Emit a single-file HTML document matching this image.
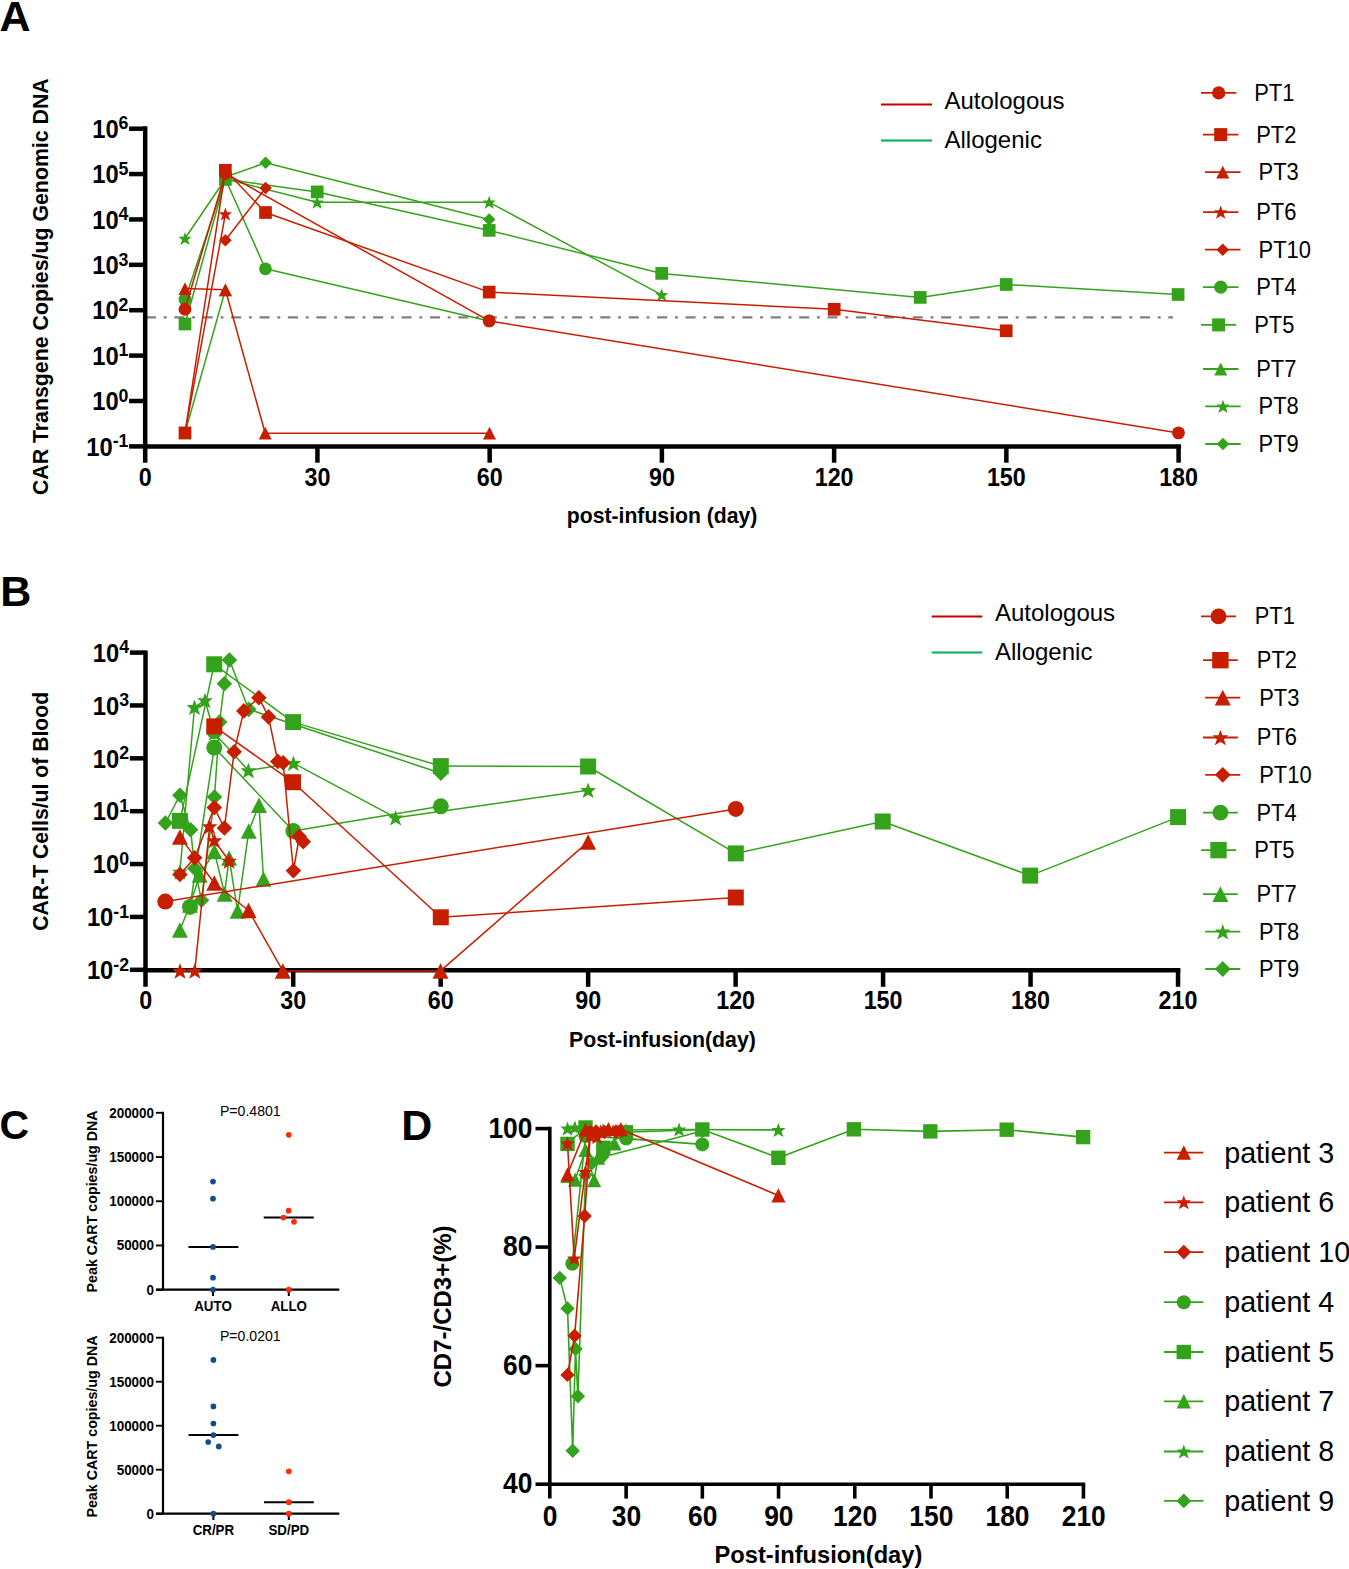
<!DOCTYPE html>
<html><head><meta charset="utf-8"><title>Figure</title>
<style>
html,body{margin:0;padding:0;background:#fff;}
body{width:1349px;height:1569px;overflow:hidden;}
svg{display:block;}
text{font-family:"Liberation Sans",sans-serif;}
</style></head><body>
<svg width="1349" height="1569" viewBox="0 0 1349 1569">
<rect width="1349" height="1569" fill="#fff"/>
<text x="-0.4" y="30.5" font-size="43" text-anchor="start" font-weight="bold" fill="#000">A</text>
<line x1="145.9" y1="317.4" x2="1173" y2="317.4" stroke="#808080" stroke-width="2.3" stroke-dasharray="10.1,7.7,3,7.6"/>
<line x1="145.2" y1="126.2" x2="145.2" y2="462.7" stroke="#000" stroke-width="4.5"/>
<line x1="142.95" y1="446.4" x2="1181" y2="446.4" stroke="#000" stroke-width="4.5"/>
<line x1="129.1" y1="446.4" x2="145.2" y2="446.4" stroke="#000" stroke-width="4.5"/>
<line x1="129.1" y1="401.01" x2="145.2" y2="401.01" stroke="#000" stroke-width="4.5"/>
<line x1="129.1" y1="355.62" x2="145.2" y2="355.62" stroke="#000" stroke-width="4.5"/>
<line x1="129.1" y1="310.23" x2="145.2" y2="310.23" stroke="#000" stroke-width="4.5"/>
<line x1="129.1" y1="264.84" x2="145.2" y2="264.84" stroke="#000" stroke-width="4.5"/>
<line x1="129.1" y1="219.45" x2="145.2" y2="219.45" stroke="#000" stroke-width="4.5"/>
<line x1="129.1" y1="174.06" x2="145.2" y2="174.06" stroke="#000" stroke-width="4.5"/>
<line x1="129.1" y1="128.7" x2="145.2" y2="128.7" stroke="#000" stroke-width="4.5"/>
<line x1="317.43" y1="446.4" x2="317.43" y2="462.7" stroke="#000" stroke-width="4.5"/>
<line x1="489.66" y1="446.4" x2="489.66" y2="462.7" stroke="#000" stroke-width="4.5"/>
<line x1="661.89" y1="446.4" x2="661.89" y2="462.7" stroke="#000" stroke-width="4.5"/>
<line x1="834.12" y1="446.4" x2="834.12" y2="462.7" stroke="#000" stroke-width="4.5"/>
<line x1="1006.35" y1="446.4" x2="1006.35" y2="462.7" stroke="#000" stroke-width="4.5"/>
<line x1="1178.58" y1="446.4" x2="1178.58" y2="462.7" stroke="#000" stroke-width="4.5"/>
<polyline points="185,299.4 225.4,179 265.4,268.8 489.2,320.9" fill="none" stroke="#34a31b" stroke-width="1.5" stroke-linejoin="round"/>
<circle cx="185" cy="299.4" r="6.4" fill="#34a31b"/>
<circle cx="225.4" cy="179" r="6.4" fill="#34a31b"/>
<circle cx="265.4" cy="268.8" r="6.4" fill="#34a31b"/>
<circle cx="489.2" cy="320.9" r="6.4" fill="#34a31b"/>
<polyline points="185,324 225.4,179.3 317.2,191.9 489.2,230.4 661.7,273.4 920.2,297.4 1006.2,284.5 1178.1,294.5" fill="none" stroke="#34a31b" stroke-width="1.5" stroke-linejoin="round"/>
<rect x="178.65" y="317.65" width="12.7" height="12.7" fill="#34a31b"/>
<rect x="219.05" y="172.95" width="12.7" height="12.7" fill="#34a31b"/>
<rect x="310.85" y="185.55" width="12.7" height="12.7" fill="#34a31b"/>
<rect x="482.85" y="224.05" width="12.7" height="12.7" fill="#34a31b"/>
<rect x="655.35" y="267.05" width="12.7" height="12.7" fill="#34a31b"/>
<rect x="913.85" y="291.05" width="12.7" height="12.7" fill="#34a31b"/>
<rect x="999.85" y="278.15" width="12.7" height="12.7" fill="#34a31b"/>
<rect x="1171.75" y="288.15" width="12.7" height="12.7" fill="#34a31b"/>
<polyline points="185,432.9 225.4,289.8" fill="none" stroke="#34a31b" stroke-width="1.5" stroke-linejoin="round"/>
<polygon points="185,426.5 191.5,439.3 178.5,439.3" fill="#34a31b"/>
<polygon points="225.4,283.4 231.9,296.2 218.9,296.2" fill="#34a31b"/>
<polyline points="185,238.5 225.4,179 317.2,202.3 489.2,202.3 661.7,294.8" fill="none" stroke="#34a31b" stroke-width="1.5" stroke-linejoin="round"/>
<polygon points="185,231.99 186.68,236.68 191.52,236.67 187.9,240.04 189.7,245.01 185,242.21 180.3,245.01 182.1,240.04 178.48,236.67 183.32,236.68" fill="#34a31b"/>
<polygon points="225.4,172.49 227.08,177.18 231.92,177.17 228.3,180.54 230.1,185.51 225.4,182.71 220.7,185.51 222.5,180.54 218.88,177.17 223.72,177.18" fill="#34a31b"/>
<polygon points="317.2,195.79 318.88,200.48 323.72,200.47 320.1,203.84 321.9,208.81 317.2,206.01 312.5,208.81 314.3,203.84 310.68,200.47 315.52,200.48" fill="#34a31b"/>
<polygon points="489.2,195.79 490.88,200.48 495.72,200.47 492.1,203.84 493.9,208.81 489.2,206.01 484.5,208.81 486.3,203.84 482.68,200.47 487.52,200.48" fill="#34a31b"/>
<polygon points="661.7,288.29 663.38,292.98 668.22,292.97 664.6,296.34 666.4,301.31 661.7,298.51 657,301.31 658.8,296.34 655.18,292.97 660.02,292.98" fill="#34a31b"/>
<polyline points="225.4,177 265.6,162.8 489.2,219.5" fill="none" stroke="#34a31b" stroke-width="1.5" stroke-linejoin="round"/>
<polygon points="225.4,170.7 231.7,177 225.4,183.3 219.1,177" fill="#34a31b"/>
<polygon points="265.6,156.5 271.9,162.8 265.6,169.1 259.3,162.8" fill="#34a31b"/>
<polygon points="489.2,213.2 495.5,219.5 489.2,225.8 482.9,219.5" fill="#34a31b"/>
<polyline points="185,309.25 225.4,173.3 489.2,320.9 1178.5,432.9" fill="none" stroke="#c81e00" stroke-width="1.5" stroke-linejoin="round"/>
<circle cx="185" cy="309.25" r="6.4" fill="#c81e00"/>
<circle cx="225.4" cy="173.3" r="6.4" fill="#c81e00"/>
<circle cx="489.2" cy="320.9" r="6.4" fill="#c81e00"/>
<circle cx="1178.5" cy="432.9" r="6.4" fill="#c81e00"/>
<polyline points="185,432.9 225.35,170.3 265.5,212.5 489.2,292.1 834.2,309.3 1006.2,330.8" fill="none" stroke="#c81e00" stroke-width="1.5" stroke-linejoin="round"/>
<rect x="178.65" y="426.55" width="12.7" height="12.7" fill="#c81e00"/>
<rect x="219" y="163.95" width="12.7" height="12.7" fill="#c81e00"/>
<rect x="259.15" y="206.15" width="12.7" height="12.7" fill="#c81e00"/>
<rect x="482.85" y="285.75" width="12.7" height="12.7" fill="#c81e00"/>
<rect x="827.85" y="302.95" width="12.7" height="12.7" fill="#c81e00"/>
<rect x="999.85" y="324.45" width="12.7" height="12.7" fill="#c81e00"/>
<polyline points="185,288.6 225.4,289.8 265.2,433.2 489.5,433.2" fill="none" stroke="#c81e00" stroke-width="1.5" stroke-linejoin="round"/>
<polygon points="185,282.2 191.5,295 178.5,295" fill="#c81e00"/>
<polygon points="225.4,283.4 231.9,296.2 218.9,296.2" fill="#c81e00"/>
<polygon points="265.2,426.8 271.7,439.6 258.7,439.6" fill="#c81e00"/>
<polygon points="489.5,426.8 496,439.6 483,439.6" fill="#c81e00"/>
<polyline points="185,432.9 225.4,214" fill="none" stroke="#c81e00" stroke-width="1.5" stroke-linejoin="round"/>
<polygon points="185,426.39 186.68,431.08 191.52,431.07 187.9,434.44 189.7,439.41 185,436.61 180.3,439.41 182.1,434.44 178.48,431.07 183.32,431.08" fill="#c81e00"/>
<polygon points="225.4,207.49 227.08,212.18 231.92,212.17 228.3,215.54 230.1,220.51 225.4,217.71 220.7,220.51 222.5,215.54 218.88,212.17 223.72,212.18" fill="#c81e00"/>
<polyline points="225.4,240.3 265.6,188" fill="none" stroke="#c81e00" stroke-width="1.5" stroke-linejoin="round"/>
<polygon points="225.4,234 231.7,240.3 225.4,246.6 219.1,240.3" fill="#c81e00"/>
<polygon points="265.6,181.7 271.9,188 265.6,194.3 259.3,188" fill="#c81e00"/>
<text transform="translate(128.5,455.6) scale(0.935,1)" font-size="25.4" text-anchor="end" font-weight="bold">10<tspan dy="-8.5" font-size="19">-1</tspan></text>
<text transform="translate(128.5,410.21) scale(0.935,1)" font-size="25.4" text-anchor="end" font-weight="bold">10<tspan dy="-8.5" font-size="19">0</tspan></text>
<text transform="translate(128.5,364.82) scale(0.935,1)" font-size="25.4" text-anchor="end" font-weight="bold">10<tspan dy="-8.5" font-size="19">1</tspan></text>
<text transform="translate(128.5,319.43) scale(0.935,1)" font-size="25.4" text-anchor="end" font-weight="bold">10<tspan dy="-8.5" font-size="19">2</tspan></text>
<text transform="translate(128.5,274.04) scale(0.935,1)" font-size="25.4" text-anchor="end" font-weight="bold">10<tspan dy="-8.5" font-size="19">3</tspan></text>
<text transform="translate(128.5,228.65) scale(0.935,1)" font-size="25.4" text-anchor="end" font-weight="bold">10<tspan dy="-8.5" font-size="19">4</tspan></text>
<text transform="translate(128.5,183.26) scale(0.935,1)" font-size="25.4" text-anchor="end" font-weight="bold">10<tspan dy="-8.5" font-size="19">5</tspan></text>
<text transform="translate(128.5,137.87) scale(0.935,1)" font-size="25.4" text-anchor="end" font-weight="bold">10<tspan dy="-8.5" font-size="19">6</tspan></text>
<text transform="translate(145.2,486) scale(0.9,1)" font-size="25.9" text-anchor="middle" font-weight="bold">0</text>
<text transform="translate(317.43,486) scale(0.9,1)" font-size="25.9" text-anchor="middle" font-weight="bold">30</text>
<text transform="translate(489.66,486) scale(0.9,1)" font-size="25.9" text-anchor="middle" font-weight="bold">60</text>
<text transform="translate(661.89,486) scale(0.9,1)" font-size="25.9" text-anchor="middle" font-weight="bold">90</text>
<text transform="translate(834.12,486) scale(0.9,1)" font-size="25.9" text-anchor="middle" font-weight="bold">120</text>
<text transform="translate(1006.35,486) scale(0.9,1)" font-size="25.9" text-anchor="middle" font-weight="bold">150</text>
<text transform="translate(1178.58,486) scale(0.9,1)" font-size="25.9" text-anchor="middle" font-weight="bold">180</text>
<text x="662.1" y="523" font-size="21.2" text-anchor="middle" font-weight="bold" fill="#000">post-infusion (day)</text>
<text x="0" y="0" font-size="21.32" text-anchor="middle" font-weight="bold" fill="#000" transform="translate(48.2,286.7) rotate(-90)">CAR Transgene Copies/ug Genomic DNA</text>
<line x1="881" y1="104.5" x2="932" y2="104.5" stroke="#c00000" stroke-width="2"/>
<line x1="881" y1="140.4" x2="932" y2="140.4" stroke="#00b050" stroke-width="2"/>
<text x="944.5" y="109" font-size="24" text-anchor="start" font-weight="normal" fill="#000">Autologous</text>
<text x="944.5" y="148" font-size="24" text-anchor="start" font-weight="normal" fill="#000">Allogenic</text>
<line x1="1201" y1="92.9" x2="1236.4" y2="92.9" stroke="#c81e00" stroke-width="1.8"/>
<circle cx="1218.7" cy="92.9" r="6.6" fill="#c81e00"/>
<text transform="translate(1254.2,100.8) scale(0.95,1)" font-size="23.1" text-anchor="start" font-weight="normal">PT1</text>
<line x1="1203" y1="134.6" x2="1238.4" y2="134.6" stroke="#c81e00" stroke-width="1.8"/>
<rect x="1214.2" y="128.1" width="13" height="13" fill="#c81e00"/>
<text transform="translate(1256.2,142.5) scale(0.95,1)" font-size="23.1" text-anchor="start" font-weight="normal">PT2</text>
<line x1="1205" y1="172.1" x2="1240.5" y2="172.1" stroke="#c81e00" stroke-width="1.8"/>
<polygon points="1222.75,165.65 1229.25,178.55 1216.25,178.55" fill="#c81e00"/>
<text transform="translate(1258.6,180) scale(0.95,1)" font-size="23.1" text-anchor="start" font-weight="normal">PT3</text>
<line x1="1203" y1="212.2" x2="1238.4" y2="212.2" stroke="#c81e00" stroke-width="1.8"/>
<polygon points="1220.7,205.6 1222.41,210.35 1227.31,210.34 1223.64,213.76 1225.47,218.8 1220.7,215.96 1215.93,218.8 1217.76,213.76 1214.09,210.34 1218.99,210.35" fill="#c81e00"/>
<text transform="translate(1256.2,220.1) scale(0.95,1)" font-size="23.1" text-anchor="start" font-weight="normal">PT6</text>
<line x1="1205" y1="249.7" x2="1240.5" y2="249.7" stroke="#c81e00" stroke-width="1.8"/>
<polygon points="1222.75,243.4 1229.05,249.7 1222.75,256 1216.45,249.7" fill="#c81e00"/>
<text transform="translate(1258.6,257.6) scale(0.95,1)" font-size="23.1" text-anchor="start" font-weight="normal">PT10</text>
<line x1="1203" y1="287.1" x2="1238.5" y2="287.1" stroke="#34a31b" stroke-width="1.8"/>
<circle cx="1220.75" cy="287.1" r="6.6" fill="#34a31b"/>
<text transform="translate(1256.2,295) scale(0.95,1)" font-size="23.1" text-anchor="start" font-weight="normal">PT4</text>
<line x1="1201" y1="324.9" x2="1236.2" y2="324.9" stroke="#34a31b" stroke-width="1.8"/>
<rect x="1212.1" y="318.4" width="13" height="13" fill="#34a31b"/>
<text transform="translate(1254.2,332.8) scale(0.95,1)" font-size="23.1" text-anchor="start" font-weight="normal">PT5</text>
<line x1="1203" y1="369" x2="1238.5" y2="369" stroke="#34a31b" stroke-width="1.8"/>
<polygon points="1220.75,362.55 1227.25,375.45 1214.25,375.45" fill="#34a31b"/>
<text transform="translate(1256.2,376.9) scale(0.95,1)" font-size="23.1" text-anchor="start" font-weight="normal">PT7</text>
<line x1="1205.2" y1="406.3" x2="1240.7" y2="406.3" stroke="#34a31b" stroke-width="1.8"/>
<polygon points="1222.95,399.7 1224.66,404.45 1229.56,404.44 1225.89,407.86 1227.72,412.9 1222.95,410.06 1218.18,412.9 1220.01,407.86 1216.34,404.44 1221.24,404.45" fill="#34a31b"/>
<text transform="translate(1258.6,414.2) scale(0.95,1)" font-size="23.1" text-anchor="start" font-weight="normal">PT8</text>
<line x1="1205.2" y1="444" x2="1240.7" y2="444" stroke="#34a31b" stroke-width="1.8"/>
<polygon points="1222.95,437.7 1229.25,444 1222.95,450.3 1216.65,444" fill="#34a31b"/>
<text transform="translate(1258.6,451.9) scale(0.95,1)" font-size="23.1" text-anchor="start" font-weight="normal">PT9</text>
<text x="0.2" y="606.3" font-size="43" text-anchor="start" font-weight="bold" fill="#000">B</text>
<line x1="145.5" y1="650.4" x2="145.5" y2="986.8" stroke="#000" stroke-width="4.5"/>
<line x1="143.25" y1="970.3" x2="1180.4" y2="970.3" stroke="#000" stroke-width="4.5"/>
<line x1="129.9" y1="969.8" x2="145.5" y2="969.8" stroke="#000" stroke-width="4.5"/>
<line x1="129.9" y1="916.93" x2="145.5" y2="916.93" stroke="#000" stroke-width="4.5"/>
<line x1="129.9" y1="864.06" x2="145.5" y2="864.06" stroke="#000" stroke-width="4.5"/>
<line x1="129.9" y1="811.19" x2="145.5" y2="811.19" stroke="#000" stroke-width="4.5"/>
<line x1="129.9" y1="758.32" x2="145.5" y2="758.32" stroke="#000" stroke-width="4.5"/>
<line x1="129.9" y1="705.45" x2="145.5" y2="705.45" stroke="#000" stroke-width="4.5"/>
<line x1="129.9" y1="652.6" x2="145.5" y2="652.6" stroke="#000" stroke-width="4.5"/>
<line x1="293.22" y1="970.3" x2="293.22" y2="986.8" stroke="#000" stroke-width="4.5"/>
<line x1="440.69" y1="970.3" x2="440.69" y2="986.8" stroke="#000" stroke-width="4.5"/>
<line x1="588.15" y1="970.3" x2="588.15" y2="986.8" stroke="#000" stroke-width="4.5"/>
<line x1="735.62" y1="970.3" x2="735.62" y2="986.8" stroke="#000" stroke-width="4.5"/>
<line x1="883.09" y1="970.3" x2="883.09" y2="986.8" stroke="#000" stroke-width="4.5"/>
<line x1="1030.56" y1="970.3" x2="1030.56" y2="986.8" stroke="#000" stroke-width="4.5"/>
<line x1="1178.03" y1="970.3" x2="1178.03" y2="986.8" stroke="#000" stroke-width="4.5"/>
<circle cx="214.3" cy="731" r="8" fill="#34a31b"/>
<polyline points="190,906.9 214.3,747.5 293.3,831.1 440.8,806.3" fill="none" stroke="#34a31b" stroke-width="1.5" stroke-linejoin="round"/>
<circle cx="190" cy="906.9" r="8" fill="#34a31b"/>
<circle cx="214.3" cy="747.5" r="8" fill="#34a31b"/>
<circle cx="293.3" cy="831.1" r="8" fill="#34a31b"/>
<circle cx="440.8" cy="806.3" r="8" fill="#34a31b"/>
<polyline points="179.9,820.9 214.2,664.3 293.1,722.1 440.8,766.1 588.1,766.5 735.8,853.4 882.7,821.5 1030.2,875.6 1178.1,817.1" fill="none" stroke="#34a31b" stroke-width="1.5" stroke-linejoin="round"/>
<rect x="171.9" y="812.9" width="16" height="16" fill="#34a31b"/>
<rect x="206.2" y="656.3" width="16" height="16" fill="#34a31b"/>
<rect x="285.1" y="714.1" width="16" height="16" fill="#34a31b"/>
<rect x="432.8" y="758.1" width="16" height="16" fill="#34a31b"/>
<rect x="580.1" y="758.5" width="16" height="16" fill="#34a31b"/>
<rect x="727.8" y="845.4" width="16" height="16" fill="#34a31b"/>
<rect x="874.7" y="813.5" width="16" height="16" fill="#34a31b"/>
<rect x="1022.2" y="867.6" width="16" height="16" fill="#34a31b"/>
<rect x="1170.1" y="809.1" width="16" height="16" fill="#34a31b"/>
<polyline points="179.9,930 190,905 199.7,875 214.4,851.6 224.6,894 229.1,857.9 237.6,911 248.75,831.1 259,805.2 263.5,879" fill="none" stroke="#34a31b" stroke-width="1.5" stroke-linejoin="round"/>
<polygon points="179.9,922.25 187.9,937.75 171.9,937.75" fill="#34a31b"/>
<polygon points="190,897.25 198,912.75 182,912.75" fill="#34a31b"/>
<polygon points="199.7,867.25 207.7,882.75 191.7,882.75" fill="#34a31b"/>
<polygon points="214.4,843.85 222.4,859.35 206.4,859.35" fill="#34a31b"/>
<polygon points="224.6,886.25 232.6,901.75 216.6,901.75" fill="#34a31b"/>
<polygon points="229.1,850.15 237.1,865.65 221.1,865.65" fill="#34a31b"/>
<polygon points="237.6,903.25 245.6,918.75 229.6,918.75" fill="#34a31b"/>
<polygon points="248.75,823.35 256.75,838.85 240.75,838.85" fill="#34a31b"/>
<polygon points="259,797.45 267,812.95 251,812.95" fill="#34a31b"/>
<polygon points="263.5,871.25 271.5,886.75 255.5,886.75" fill="#34a31b"/>
<polyline points="179.9,872 194.5,707.2 205,700.5 214.3,733 248.4,770.5 293.4,763.2 395.6,817.7 588.1,790.3" fill="none" stroke="#34a31b" stroke-width="1.5" stroke-linejoin="round"/>
<polygon points="179.9,864.22 181.91,869.82 187.68,869.81 183.36,873.84 185.52,879.78 179.9,876.43 174.28,879.78 176.44,873.84 172.12,869.81 177.89,869.82" fill="#34a31b"/>
<polygon points="194.5,699.42 196.51,705.02 202.28,705.01 197.96,709.04 200.12,714.98 194.5,711.63 188.88,714.98 191.04,709.04 186.72,705.01 192.49,705.02" fill="#34a31b"/>
<polygon points="205,692.72 207.01,698.32 212.78,698.31 208.46,702.34 210.62,708.28 205,704.93 199.38,708.28 201.54,702.34 197.22,698.31 202.99,698.32" fill="#34a31b"/>
<polygon points="214.3,725.22 216.31,730.82 222.08,730.81 217.76,734.84 219.92,740.78 214.3,737.43 208.68,740.78 210.84,734.84 206.52,730.81 212.29,730.82" fill="#34a31b"/>
<polygon points="248.4,762.72 250.41,768.32 256.18,768.31 251.86,772.34 254.02,778.28 248.4,774.93 242.78,778.28 244.94,772.34 240.62,768.31 246.39,768.32" fill="#34a31b"/>
<polygon points="293.4,755.42 295.41,761.02 301.18,761.01 296.86,765.04 299.02,770.98 293.4,767.63 287.78,770.98 289.94,765.04 285.62,761.01 291.39,761.02" fill="#34a31b"/>
<polygon points="395.6,809.92 397.61,815.52 403.38,815.51 399.06,819.54 401.22,825.48 395.6,822.13 389.98,825.48 392.14,819.54 387.82,815.51 393.59,815.52" fill="#34a31b"/>
<polygon points="588.1,782.52 590.11,788.12 595.88,788.11 591.56,792.14 593.72,798.08 588.1,794.73 582.48,798.08 584.64,792.14 580.32,788.11 586.09,788.12" fill="#34a31b"/>
<polyline points="165.4,823 179.9,795.3 190.6,829.8 194.8,868.4 201.5,900.3 214.5,797 219.6,722 224.4,683.7 229.4,660 248.75,709.4 440.8,773.2" fill="none" stroke="#34a31b" stroke-width="1.5" stroke-linejoin="round"/>
<polygon points="165.4,815.2 173.2,823 165.4,830.8 157.6,823" fill="#34a31b"/>
<polygon points="179.9,787.5 187.7,795.3 179.9,803.1 172.1,795.3" fill="#34a31b"/>
<polygon points="190.6,822 198.4,829.8 190.6,837.6 182.8,829.8" fill="#34a31b"/>
<polygon points="194.8,860.6 202.6,868.4 194.8,876.2 187,868.4" fill="#34a31b"/>
<polygon points="201.5,892.5 209.3,900.3 201.5,908.1 193.7,900.3" fill="#34a31b"/>
<polygon points="214.5,789.2 222.3,797 214.5,804.8 206.7,797" fill="#34a31b"/>
<polygon points="219.6,714.2 227.4,722 219.6,729.8 211.8,722" fill="#34a31b"/>
<polygon points="224.4,675.9 232.2,683.7 224.4,691.5 216.6,683.7" fill="#34a31b"/>
<polygon points="229.4,652.2 237.2,660 229.4,667.8 221.6,660" fill="#34a31b"/>
<polygon points="248.75,701.6 256.55,709.4 248.75,717.2 240.95,709.4" fill="#34a31b"/>
<polygon points="440.8,765.4 448.6,773.2 440.8,781 433,773.2" fill="#34a31b"/>
<polyline points="165.3,901.6 735.8,808.9" fill="none" stroke="#c81e00" stroke-width="1.5" stroke-linejoin="round"/>
<circle cx="165.3" cy="901.6" r="8" fill="#c81e00"/>
<circle cx="735.8" cy="808.9" r="8" fill="#c81e00"/>
<polyline points="214.3,726.4 293,782.2 440.8,917.3 735.8,897.5" fill="none" stroke="#c81e00" stroke-width="1.5" stroke-linejoin="round"/>
<rect x="206.3" y="718.4" width="16" height="16" fill="#c81e00"/>
<rect x="285" y="774.2" width="16" height="16" fill="#c81e00"/>
<rect x="432.8" y="909.3" width="16" height="16" fill="#c81e00"/>
<rect x="727.8" y="889.5" width="16" height="16" fill="#c81e00"/>
<polyline points="179.9,836.9 214.3,883 248.6,910.5 282.8,970.9 440.5,970.9 588.1,841.9" fill="none" stroke="#c81e00" stroke-width="1.5" stroke-linejoin="round"/>
<polygon points="179.9,829.15 187.9,844.65 171.9,844.65" fill="#c81e00"/>
<polygon points="214.3,875.25 222.3,890.75 206.3,890.75" fill="#c81e00"/>
<polygon points="248.6,902.75 256.6,918.25 240.6,918.25" fill="#c81e00"/>
<polygon points="282.8,963.15 290.8,978.65 274.8,978.65" fill="#c81e00"/>
<polygon points="440.5,963.15 448.5,978.65 432.5,978.65" fill="#c81e00"/>
<polygon points="588.1,834.15 596.1,849.65 580.1,849.65" fill="#c81e00"/>
<polyline points="180,970.9 194.8,970.9 209.6,826.5 214.3,840.5 229.2,861" fill="none" stroke="#c81e00" stroke-width="1.5" stroke-linejoin="round"/>
<polygon points="180,963.12 182.01,968.72 187.78,968.71 183.46,972.74 185.62,978.68 180,975.33 174.38,978.68 176.54,972.74 172.22,968.71 177.99,968.72" fill="#c81e00"/>
<polygon points="194.8,963.12 196.81,968.72 202.58,968.71 198.26,972.74 200.42,978.68 194.8,975.33 189.18,978.68 191.34,972.74 187.02,968.71 192.79,968.72" fill="#c81e00"/>
<polygon points="209.6,818.72 211.61,824.32 217.38,824.31 213.06,828.34 215.22,834.28 209.6,830.93 203.98,834.28 206.14,828.34 201.82,824.31 207.59,824.32" fill="#c81e00"/>
<polygon points="214.3,832.72 216.31,838.32 222.08,838.31 217.76,842.34 219.92,848.28 214.3,844.93 208.68,848.28 210.84,842.34 206.52,838.31 212.29,838.32" fill="#c81e00"/>
<polygon points="229.2,853.22 231.21,858.82 236.98,858.81 232.66,862.84 234.82,868.78 229.2,865.43 223.58,868.78 225.74,862.84 221.42,858.81 227.19,858.82" fill="#c81e00"/>
<polyline points="179.9,874.5 194.7,857.7 214.3,807.6 224.4,828 234.2,751.7 243.8,710.9 258.9,697.7 268.5,716.9 277.8,761.4 283.1,762.8 293.4,870.8 299.3,836.5 303.3,841.8" fill="none" stroke="#c81e00" stroke-width="1.5" stroke-linejoin="round"/>
<polygon points="179.9,866.7 187.7,874.5 179.9,882.3 172.1,874.5" fill="#c81e00"/>
<polygon points="194.7,849.9 202.5,857.7 194.7,865.5 186.9,857.7" fill="#c81e00"/>
<polygon points="214.3,799.8 222.1,807.6 214.3,815.4 206.5,807.6" fill="#c81e00"/>
<polygon points="224.4,820.2 232.2,828 224.4,835.8 216.6,828" fill="#c81e00"/>
<polygon points="234.2,743.9 242,751.7 234.2,759.5 226.4,751.7" fill="#c81e00"/>
<polygon points="243.8,703.1 251.6,710.9 243.8,718.7 236,710.9" fill="#c81e00"/>
<polygon points="258.9,689.9 266.7,697.7 258.9,705.5 251.1,697.7" fill="#c81e00"/>
<polygon points="268.5,709.1 276.3,716.9 268.5,724.7 260.7,716.9" fill="#c81e00"/>
<polygon points="277.8,753.6 285.6,761.4 277.8,769.2 270,761.4" fill="#c81e00"/>
<polygon points="283.1,755 290.9,762.8 283.1,770.6 275.3,762.8" fill="#c81e00"/>
<polygon points="293.4,863 301.2,870.8 293.4,878.6 285.6,870.8" fill="#c81e00"/>
<polygon points="299.3,828.7 307.1,836.5 299.3,844.3 291.5,836.5" fill="#c81e00"/>
<polygon points="303.3,834 311.1,841.8 303.3,849.6 295.5,841.8" fill="#c81e00"/>
<text transform="translate(129.1,979.1) scale(0.935,1)" font-size="25.4" text-anchor="end" font-weight="bold">10<tspan dy="-8.5" font-size="19">-2</tspan></text>
<text transform="translate(129.1,926.23) scale(0.935,1)" font-size="25.4" text-anchor="end" font-weight="bold">10<tspan dy="-8.5" font-size="19">-1</tspan></text>
<text transform="translate(129.1,873.36) scale(0.935,1)" font-size="25.4" text-anchor="end" font-weight="bold">10<tspan dy="-8.5" font-size="19">0</tspan></text>
<text transform="translate(129.1,820.49) scale(0.935,1)" font-size="25.4" text-anchor="end" font-weight="bold">10<tspan dy="-8.5" font-size="19">1</tspan></text>
<text transform="translate(129.1,767.62) scale(0.935,1)" font-size="25.4" text-anchor="end" font-weight="bold">10<tspan dy="-8.5" font-size="19">2</tspan></text>
<text transform="translate(129.1,714.75) scale(0.935,1)" font-size="25.4" text-anchor="end" font-weight="bold">10<tspan dy="-8.5" font-size="19">3</tspan></text>
<text transform="translate(129.1,661.88) scale(0.935,1)" font-size="25.4" text-anchor="end" font-weight="bold">10<tspan dy="-8.5" font-size="19">4</tspan></text>
<text transform="translate(145.75,1009.3) scale(0.9,1)" font-size="25.9" text-anchor="middle" font-weight="bold">0</text>
<text transform="translate(293.22,1009.3) scale(0.9,1)" font-size="25.9" text-anchor="middle" font-weight="bold">30</text>
<text transform="translate(440.69,1009.3) scale(0.9,1)" font-size="25.9" text-anchor="middle" font-weight="bold">60</text>
<text transform="translate(588.15,1009.3) scale(0.9,1)" font-size="25.9" text-anchor="middle" font-weight="bold">90</text>
<text transform="translate(735.62,1009.3) scale(0.9,1)" font-size="25.9" text-anchor="middle" font-weight="bold">120</text>
<text transform="translate(883.09,1009.3) scale(0.9,1)" font-size="25.9" text-anchor="middle" font-weight="bold">150</text>
<text transform="translate(1030.56,1009.3) scale(0.9,1)" font-size="25.9" text-anchor="middle" font-weight="bold">180</text>
<text transform="translate(1178.03,1009.3) scale(0.9,1)" font-size="25.9" text-anchor="middle" font-weight="bold">210</text>
<text x="662.4" y="1047.1" font-size="21.3" text-anchor="middle" font-weight="bold" fill="#000">Post-infusion(day)</text>
<text x="0" y="0" font-size="21.2" text-anchor="middle" font-weight="bold" fill="#000" transform="translate(48.0,811.3) rotate(-90)">CAR-T Cells/ul of Blood</text>
<line x1="931.7" y1="616.5" x2="982.3" y2="616.5" stroke="#c00000" stroke-width="2"/>
<line x1="931.7" y1="652.6" x2="982.3" y2="652.6" stroke="#00b050" stroke-width="2"/>
<text x="995" y="620.7" font-size="24" text-anchor="start" font-weight="normal" fill="#000">Autologous</text>
<text x="995" y="660" font-size="24" text-anchor="start" font-weight="normal" fill="#000">Allogenic</text>
<line x1="1201" y1="616.4" x2="1236" y2="616.4" stroke="#c81e00" stroke-width="1.8"/>
<circle cx="1218.5" cy="616.4" r="7.9" fill="#c81e00"/>
<text transform="translate(1254.7,624.3) scale(0.95,1)" font-size="23.1" text-anchor="start" font-weight="normal">PT1</text>
<line x1="1203" y1="660.2" x2="1237.8" y2="660.2" stroke="#c81e00" stroke-width="1.8"/>
<rect x="1212.2" y="652" width="16.4" height="16.4" fill="#c81e00"/>
<text transform="translate(1256.8,668.1) scale(0.95,1)" font-size="23.1" text-anchor="start" font-weight="normal">PT2</text>
<line x1="1205.2" y1="697.6" x2="1240.3" y2="697.6" stroke="#c81e00" stroke-width="1.8"/>
<polygon points="1222.75,689.8 1230.75,705.4 1214.75,705.4" fill="#c81e00"/>
<text transform="translate(1259.2,705.5) scale(0.95,1)" font-size="23.1" text-anchor="start" font-weight="normal">PT3</text>
<line x1="1203" y1="737.5" x2="1237.8" y2="737.5" stroke="#c81e00" stroke-width="1.8"/>
<polygon points="1220.4,729.72 1222.41,735.32 1228.18,735.31 1223.86,739.34 1226.02,745.28 1220.4,741.93 1214.78,745.28 1216.94,739.34 1212.62,735.31 1218.39,735.32" fill="#c81e00"/>
<text transform="translate(1256.8,745.4) scale(0.95,1)" font-size="23.1" text-anchor="start" font-weight="normal">PT6</text>
<line x1="1205.2" y1="774.8" x2="1240.3" y2="774.8" stroke="#c81e00" stroke-width="1.8"/>
<polygon points="1222.75,766.9 1230.65,774.8 1222.75,782.7 1214.85,774.8" fill="#c81e00"/>
<text transform="translate(1259.2,782.7) scale(0.95,1)" font-size="23.1" text-anchor="start" font-weight="normal">PT10</text>
<line x1="1203" y1="812.6" x2="1237.8" y2="812.6" stroke="#34a31b" stroke-width="1.8"/>
<circle cx="1220.4" cy="812.6" r="7.9" fill="#34a31b"/>
<text transform="translate(1256.4,820.5) scale(0.95,1)" font-size="23.1" text-anchor="start" font-weight="normal">PT4</text>
<line x1="1201" y1="850.1" x2="1236" y2="850.1" stroke="#34a31b" stroke-width="1.8"/>
<rect x="1210.3" y="841.9" width="16.4" height="16.4" fill="#34a31b"/>
<text transform="translate(1254.3,858) scale(0.95,1)" font-size="23.1" text-anchor="start" font-weight="normal">PT5</text>
<line x1="1203" y1="894.1" x2="1237.8" y2="894.1" stroke="#34a31b" stroke-width="1.8"/>
<polygon points="1220.4,886.3 1228.4,901.9 1212.4,901.9" fill="#34a31b"/>
<text transform="translate(1256.4,902) scale(0.95,1)" font-size="23.1" text-anchor="start" font-weight="normal">PT7</text>
<line x1="1205.2" y1="931.7" x2="1240.3" y2="931.7" stroke="#34a31b" stroke-width="1.8"/>
<polygon points="1222.75,923.92 1224.76,929.52 1230.53,929.51 1226.21,933.54 1228.37,939.48 1222.75,936.13 1217.13,939.48 1219.29,933.54 1214.97,929.51 1220.74,929.52" fill="#34a31b"/>
<text transform="translate(1258.9,939.6) scale(0.95,1)" font-size="23.1" text-anchor="start" font-weight="normal">PT8</text>
<line x1="1205.2" y1="969" x2="1240.3" y2="969" stroke="#34a31b" stroke-width="1.8"/>
<polygon points="1222.75,961.1 1230.65,969 1222.75,976.9 1214.85,969" fill="#34a31b"/>
<text transform="translate(1258.9,976.9) scale(0.95,1)" font-size="23.1" text-anchor="start" font-weight="normal">PT9</text>
<text x="-0.4" y="1139.2" font-size="41" text-anchor="start" font-weight="bold" fill="#000">C</text>
<line x1="163" y1="1111.8" x2="163" y2="1290.7" stroke="#000" stroke-width="2.2"/>
<line x1="156" y1="1289.7" x2="339.3" y2="1289.7" stroke="#000" stroke-width="2.2"/>
<line x1="155.9" y1="1289.7" x2="163" y2="1289.7" stroke="#000" stroke-width="1.9"/>
<text transform="translate(154,1294.5) scale(0.94,1)" font-size="14.3" text-anchor="end" font-weight="bold">0</text>
<line x1="155.9" y1="1245.47" x2="163" y2="1245.47" stroke="#000" stroke-width="1.9"/>
<text transform="translate(154,1250.27) scale(0.94,1)" font-size="14.3" text-anchor="end" font-weight="bold">50000</text>
<line x1="155.9" y1="1201.25" x2="163" y2="1201.25" stroke="#000" stroke-width="1.9"/>
<text transform="translate(154,1206.05) scale(0.94,1)" font-size="14.3" text-anchor="end" font-weight="bold">100000</text>
<line x1="155.9" y1="1157.03" x2="163" y2="1157.03" stroke="#000" stroke-width="1.9"/>
<text transform="translate(154,1161.83) scale(0.94,1)" font-size="14.3" text-anchor="end" font-weight="bold">150000</text>
<line x1="155.9" y1="1112.8" x2="163" y2="1112.8" stroke="#000" stroke-width="1.9"/>
<text transform="translate(154,1117.6) scale(0.94,1)" font-size="14.3" text-anchor="end" font-weight="bold">200000</text>
<line x1="213" y1="1289.7" x2="213" y2="1296" stroke="#000" stroke-width="2"/>
<text transform="translate(213,1310.6) scale(0.94,1)" font-size="14.2" text-anchor="middle" font-weight="bold">AUTO</text>
<line x1="288.8" y1="1289.7" x2="288.8" y2="1296" stroke="#000" stroke-width="2"/>
<text transform="translate(288.8,1310.6) scale(0.94,1)" font-size="14.2" text-anchor="middle" font-weight="bold">ALLO</text>
<text transform="translate(250.3,1116.2) scale(0.94,1)" font-size="15" text-anchor="middle" font-weight="normal">P=0.4801</text>
<line x1="188.5" y1="1246.9" x2="238.4" y2="1246.9" stroke="#000" stroke-width="2"/>
<line x1="263.7" y1="1217.6" x2="313.8" y2="1217.6" stroke="#000" stroke-width="2"/>
<circle cx="213" cy="1181.6" r="2.85" fill="#154c88"/>
<circle cx="213" cy="1198.7" r="2.85" fill="#154c88"/>
<circle cx="213" cy="1246.9" r="2.85" fill="#154c88"/>
<circle cx="213" cy="1277.7" r="2.85" fill="#154c88"/>
<circle cx="213" cy="1289.7" r="2.85" fill="#154c88"/>
<circle cx="288.8" cy="1134.8" r="2.85" fill="#ff2a08"/>
<circle cx="288.7" cy="1210.7" r="2.85" fill="#ff2a08"/>
<circle cx="283.4" cy="1217.6" r="2.85" fill="#ff2a08"/>
<circle cx="294" cy="1221.8" r="2.85" fill="#ff2a08"/>
<circle cx="288.8" cy="1289.7" r="2.85" fill="#ff2a08"/>
<text x="0" y="0" font-size="14.25" text-anchor="middle" font-weight="bold" fill="#000" transform="translate(96.9,1201.4) rotate(-90)">Peak CART copies/ug DNA</text>
<line x1="163" y1="1336.7" x2="163" y2="1514.7" stroke="#000" stroke-width="2.2"/>
<line x1="156" y1="1513.7" x2="339.3" y2="1513.7" stroke="#000" stroke-width="2.2"/>
<line x1="155.9" y1="1513.7" x2="163" y2="1513.7" stroke="#000" stroke-width="1.9"/>
<text transform="translate(154,1518.5) scale(0.94,1)" font-size="14.3" text-anchor="end" font-weight="bold">0</text>
<line x1="155.9" y1="1469.7" x2="163" y2="1469.7" stroke="#000" stroke-width="1.9"/>
<text transform="translate(154,1474.5) scale(0.94,1)" font-size="14.3" text-anchor="end" font-weight="bold">50000</text>
<line x1="155.9" y1="1425.7" x2="163" y2="1425.7" stroke="#000" stroke-width="1.9"/>
<text transform="translate(154,1430.5) scale(0.94,1)" font-size="14.3" text-anchor="end" font-weight="bold">100000</text>
<line x1="155.9" y1="1381.7" x2="163" y2="1381.7" stroke="#000" stroke-width="1.9"/>
<text transform="translate(154,1386.5) scale(0.94,1)" font-size="14.3" text-anchor="end" font-weight="bold">150000</text>
<line x1="155.9" y1="1337.7" x2="163" y2="1337.7" stroke="#000" stroke-width="1.9"/>
<text transform="translate(154,1342.5) scale(0.94,1)" font-size="14.3" text-anchor="end" font-weight="bold">200000</text>
<line x1="213.4" y1="1513.7" x2="213.4" y2="1520" stroke="#000" stroke-width="2"/>
<text transform="translate(213.4,1534.6) scale(0.94,1)" font-size="14.2" text-anchor="middle" font-weight="bold">CR/PR</text>
<line x1="288.8" y1="1513.7" x2="288.8" y2="1520" stroke="#000" stroke-width="2"/>
<text transform="translate(288.8,1534.6) scale(0.94,1)" font-size="14.2" text-anchor="middle" font-weight="bold">SD/PD</text>
<text transform="translate(250.3,1341.4) scale(0.94,1)" font-size="15" text-anchor="middle" font-weight="normal">P=0.0201</text>
<line x1="188.5" y1="1435.1" x2="238.4" y2="1435.1" stroke="#000" stroke-width="2"/>
<line x1="264" y1="1502.2" x2="313.8" y2="1502.2" stroke="#000" stroke-width="2"/>
<circle cx="213.4" cy="1359.9" r="2.85" fill="#154c88"/>
<circle cx="213.4" cy="1406.4" r="2.85" fill="#154c88"/>
<circle cx="213.4" cy="1423.5" r="2.85" fill="#154c88"/>
<circle cx="213.4" cy="1435.1" r="2.85" fill="#154c88"/>
<circle cx="208.2" cy="1442" r="2.85" fill="#154c88"/>
<circle cx="218.8" cy="1446.4" r="2.85" fill="#154c88"/>
<circle cx="213.4" cy="1513.7" r="2.85" fill="#154c88"/>
<circle cx="288.8" cy="1471.3" r="2.85" fill="#ff2a08"/>
<circle cx="288.8" cy="1502.2" r="2.85" fill="#ff2a08"/>
<circle cx="288.8" cy="1513.7" r="2.85" fill="#ff2a08"/>
<text x="0" y="0" font-size="14.25" text-anchor="middle" font-weight="bold" fill="#000" transform="translate(96.9,1426.5) rotate(-90)">Peak CART copies/ug DNA</text>
<text x="401.2" y="1139.5" font-size="43" text-anchor="start" font-weight="bold" fill="#000">D</text>
<line x1="549.8" y1="1126.8" x2="549.8" y2="1498.6" stroke="#000" stroke-width="3.6"/>
<line x1="548" y1="1484.2" x2="1085.2" y2="1484.2" stroke="#000" stroke-width="3.6"/>
<line x1="535.5" y1="1484.2" x2="549.8" y2="1484.2" stroke="#000" stroke-width="3.6"/>
<text transform="translate(532.4,1493.3) scale(0.9,1)" font-size="29.3" text-anchor="end" font-weight="bold">40</text>
<line x1="535.5" y1="1365.64" x2="549.8" y2="1365.64" stroke="#000" stroke-width="3.6"/>
<text transform="translate(532.4,1374.74) scale(0.9,1)" font-size="29.3" text-anchor="end" font-weight="bold">60</text>
<line x1="535.5" y1="1247.08" x2="549.8" y2="1247.08" stroke="#000" stroke-width="3.6"/>
<text transform="translate(532.4,1256.18) scale(0.9,1)" font-size="29.3" text-anchor="end" font-weight="bold">80</text>
<line x1="535.5" y1="1128.6" x2="549.8" y2="1128.6" stroke="#000" stroke-width="3.6"/>
<text transform="translate(532.4,1137.7) scale(0.9,1)" font-size="29.3" text-anchor="end" font-weight="bold">100</text>
<text transform="translate(550.2,1526.1) scale(0.9,1)" font-size="29.3" text-anchor="middle" font-weight="bold">0</text>
<line x1="626.12" y1="1484.2" x2="626.12" y2="1498.6" stroke="#000" stroke-width="3.6"/>
<text transform="translate(626.42,1526.1) scale(0.9,1)" font-size="29.3" text-anchor="middle" font-weight="bold">30</text>
<line x1="702.34" y1="1484.2" x2="702.34" y2="1498.6" stroke="#000" stroke-width="3.6"/>
<text transform="translate(702.64,1526.1) scale(0.9,1)" font-size="29.3" text-anchor="middle" font-weight="bold">60</text>
<line x1="778.56" y1="1484.2" x2="778.56" y2="1498.6" stroke="#000" stroke-width="3.6"/>
<text transform="translate(778.86,1526.1) scale(0.9,1)" font-size="29.3" text-anchor="middle" font-weight="bold">90</text>
<line x1="854.78" y1="1484.2" x2="854.78" y2="1498.6" stroke="#000" stroke-width="3.6"/>
<text transform="translate(855.08,1526.1) scale(0.9,1)" font-size="29.3" text-anchor="middle" font-weight="bold">120</text>
<line x1="931" y1="1484.2" x2="931" y2="1498.6" stroke="#000" stroke-width="3.6"/>
<text transform="translate(931.3,1526.1) scale(0.9,1)" font-size="29.3" text-anchor="middle" font-weight="bold">150</text>
<line x1="1007.23" y1="1484.2" x2="1007.23" y2="1498.6" stroke="#000" stroke-width="3.6"/>
<text transform="translate(1007.53,1526.1) scale(0.9,1)" font-size="29.3" text-anchor="middle" font-weight="bold">180</text>
<line x1="1083.45" y1="1484.2" x2="1083.45" y2="1498.6" stroke="#000" stroke-width="3.6"/>
<text transform="translate(1083.75,1526.1) scale(0.9,1)" font-size="29.3" text-anchor="middle" font-weight="bold">210</text>
<polyline points="572.3,1263.7 585.5,1136 626.2,1138.6 702.3,1144.4" fill="none" stroke="#34a31b" stroke-width="1.6" stroke-linejoin="round"/>
<circle cx="572.3" cy="1263.7" r="7" fill="#34a31b"/>
<circle cx="585.5" cy="1136" r="7" fill="#34a31b"/>
<circle cx="626.2" cy="1138.6" r="7" fill="#34a31b"/>
<circle cx="702.3" cy="1144.4" r="7" fill="#34a31b"/>
<polyline points="567.5,1143.9 585.5,1127.5 603.3,1147.8 626,1132.3 702.3,1129.5 778.4,1157.8 853.9,1129.3 930.3,1131.4 1006.7,1129.7 1083.1,1137.1" fill="none" stroke="#34a31b" stroke-width="1.6" stroke-linejoin="round"/>
<rect x="560.3" y="1136.7" width="14.4" height="14.4" fill="#34a31b"/>
<rect x="578.3" y="1120.3" width="14.4" height="14.4" fill="#34a31b"/>
<rect x="596.1" y="1140.6" width="14.4" height="14.4" fill="#34a31b"/>
<rect x="618.8" y="1125.1" width="14.4" height="14.4" fill="#34a31b"/>
<rect x="695.1" y="1122.3" width="14.4" height="14.4" fill="#34a31b"/>
<rect x="771.2" y="1150.6" width="14.4" height="14.4" fill="#34a31b"/>
<rect x="846.7" y="1122.1" width="14.4" height="14.4" fill="#34a31b"/>
<rect x="923.1" y="1124.2" width="14.4" height="14.4" fill="#34a31b"/>
<rect x="999.5" y="1122.5" width="14.4" height="14.4" fill="#34a31b"/>
<rect x="1075.9" y="1129.9" width="14.4" height="14.4" fill="#34a31b"/>
<polyline points="567.5,1176 575.2,1179.6 585.5,1150 594.1,1180.2 598,1157.6 614.5,1143.5" fill="none" stroke="#34a31b" stroke-width="1.6" stroke-linejoin="round"/>
<polygon points="567.5,1168.9 574.6,1183.1 560.4,1183.1" fill="#34a31b"/>
<polygon points="575.2,1172.5 582.3,1186.7 568.1,1186.7" fill="#34a31b"/>
<polygon points="585.5,1142.9 592.6,1157.1 578.4,1157.1" fill="#34a31b"/>
<polygon points="594.1,1173.1 601.2,1187.3 587,1187.3" fill="#34a31b"/>
<polygon points="598,1150.5 605.1,1164.7 590.9,1164.7" fill="#34a31b"/>
<polygon points="614.5,1136.4 621.6,1150.6 607.4,1150.6" fill="#34a31b"/>
<polyline points="567.5,1128.6 574.9,1127.5 585.5,1129.5 603,1130 626,1130 679.1,1129.5 778.4,1129.9" fill="none" stroke="#34a31b" stroke-width="1.6" stroke-linejoin="round"/>
<polygon points="567.5,1121.54 569.32,1126.62 574.56,1126.61 570.64,1130.27 572.59,1135.66 567.5,1132.62 562.41,1135.66 564.36,1130.27 560.44,1126.61 565.68,1126.62" fill="#34a31b"/>
<polygon points="574.9,1120.44 576.72,1125.52 581.96,1125.51 578.04,1129.17 579.99,1134.56 574.9,1131.52 569.81,1134.56 571.76,1129.17 567.84,1125.51 573.08,1125.52" fill="#34a31b"/>
<polygon points="585.5,1122.44 587.32,1127.52 592.56,1127.51 588.64,1131.17 590.59,1136.56 585.5,1133.52 580.41,1136.56 582.36,1131.17 578.44,1127.51 583.68,1127.52" fill="#34a31b"/>
<polygon points="603,1122.94 604.82,1128.02 610.06,1128.01 606.14,1131.67 608.09,1137.06 603,1134.02 597.91,1137.06 599.86,1131.67 595.94,1128.01 601.18,1128.02" fill="#34a31b"/>
<polygon points="626,1122.94 627.82,1128.02 633.06,1128.01 629.14,1131.67 631.09,1137.06 626,1134.02 620.91,1137.06 622.86,1131.67 618.94,1128.01 624.18,1128.02" fill="#34a31b"/>
<polygon points="679.1,1122.44 680.92,1127.52 686.16,1127.51 682.24,1131.17 684.19,1136.56 679.1,1133.52 674.01,1136.56 675.96,1131.17 672.04,1127.51 677.28,1127.52" fill="#34a31b"/>
<polygon points="778.4,1122.84 780.22,1127.92 785.46,1127.91 781.54,1131.57 783.49,1136.96 778.4,1133.92 773.31,1136.96 775.26,1131.57 771.34,1127.91 776.58,1127.92" fill="#34a31b"/>
<polyline points="559.8,1277.9 567.5,1308.4 572.7,1450.7 575.5,1349 577.9,1396.2 585.5,1175 592,1163 602,1157.2 702.3,1131" fill="none" stroke="#34a31b" stroke-width="1.6" stroke-linejoin="round"/>
<polygon points="559.8,1270.7 567,1277.9 559.8,1285.1 552.6,1277.9" fill="#34a31b"/>
<polygon points="567.5,1301.2 574.7,1308.4 567.5,1315.6 560.3,1308.4" fill="#34a31b"/>
<polygon points="572.7,1443.5 579.9,1450.7 572.7,1457.9 565.5,1450.7" fill="#34a31b"/>
<polygon points="575.5,1341.8 582.7,1349 575.5,1356.2 568.3,1349" fill="#34a31b"/>
<polygon points="577.9,1389 585.1,1396.2 577.9,1403.4 570.7,1396.2" fill="#34a31b"/>
<polygon points="585.5,1167.8 592.7,1175 585.5,1182.2 578.3,1175" fill="#34a31b"/>
<polygon points="592,1155.8 599.2,1163 592,1170.2 584.8,1163" fill="#34a31b"/>
<polygon points="602,1150 609.2,1157.2 602,1164.4 594.8,1157.2" fill="#34a31b"/>
<polygon points="702.3,1123.8 709.5,1131 702.3,1138.2 695.1,1131" fill="#34a31b"/>
<polyline points="567.5,1174.3 585.6,1129.7 608.4,1129 620.8,1129.2 778.4,1195.4" fill="none" stroke="#c81e00" stroke-width="1.6" stroke-linejoin="round"/>
<polygon points="567.5,1167.2 574.6,1181.4 560.4,1181.4" fill="#c81e00"/>
<polygon points="585.6,1122.6 592.7,1136.8 578.5,1136.8" fill="#c81e00"/>
<polygon points="608.4,1121.9 615.5,1136.1 601.3,1136.1" fill="#c81e00"/>
<polygon points="620.8,1122.1 627.9,1136.3 613.7,1136.3" fill="#c81e00"/>
<polygon points="778.4,1188.3 785.5,1202.5 771.3,1202.5" fill="#c81e00"/>
<polyline points="567.5,1143.5 574.2,1258.5 585.2,1172 590,1136 597,1137 600.6,1131.3 613,1131.3 618.2,1131.3" fill="none" stroke="#c81e00" stroke-width="1.6" stroke-linejoin="round"/>
<polygon points="567.5,1136.44 569.32,1141.52 574.56,1141.51 570.64,1145.17 572.59,1150.56 567.5,1147.52 562.41,1150.56 564.36,1145.17 560.44,1141.51 565.68,1141.52" fill="#c81e00"/>
<polygon points="574.2,1251.44 576.02,1256.52 581.26,1256.51 577.34,1260.17 579.29,1265.56 574.2,1262.52 569.11,1265.56 571.06,1260.17 567.14,1256.51 572.38,1256.52" fill="#c81e00"/>
<polygon points="585.2,1164.94 587.02,1170.02 592.26,1170.01 588.34,1173.67 590.29,1179.06 585.2,1176.02 580.11,1179.06 582.06,1173.67 578.14,1170.01 583.38,1170.02" fill="#c81e00"/>
<polygon points="590,1128.94 591.82,1134.02 597.06,1134.01 593.14,1137.67 595.09,1143.06 590,1140.02 584.91,1143.06 586.86,1137.67 582.94,1134.01 588.18,1134.02" fill="#c81e00"/>
<polygon points="597,1129.94 598.82,1135.02 604.06,1135.01 600.14,1138.67 602.09,1144.06 597,1141.02 591.91,1144.06 593.86,1138.67 589.94,1135.01 595.18,1135.02" fill="#c81e00"/>
<polygon points="600.6,1124.24 602.42,1129.32 607.66,1129.31 603.74,1132.97 605.69,1138.36 600.6,1135.32 595.51,1138.36 597.46,1132.97 593.54,1129.31 598.78,1129.32" fill="#c81e00"/>
<polygon points="613,1124.24 614.82,1129.32 620.06,1129.31 616.14,1132.97 618.09,1138.36 613,1135.32 607.91,1138.36 609.86,1132.97 605.94,1129.31 611.18,1129.32" fill="#c81e00"/>
<polygon points="618.2,1124.24 620.02,1129.32 625.26,1129.31 621.34,1132.97 623.29,1138.36 618.2,1135.32 613.11,1138.36 615.06,1132.97 611.14,1129.31 616.38,1129.32" fill="#c81e00"/>
<polyline points="567.5,1374.9 574.6,1335.8 584.7,1216 590.5,1132 596,1131.5 604.5,1132 616,1131.5" fill="none" stroke="#c81e00" stroke-width="1.6" stroke-linejoin="round"/>
<polygon points="567.5,1367.7 574.7,1374.9 567.5,1382.1 560.3,1374.9" fill="#c81e00"/>
<polygon points="574.6,1328.6 581.8,1335.8 574.6,1343 567.4,1335.8" fill="#c81e00"/>
<polygon points="584.7,1208.8 591.9,1216 584.7,1223.2 577.5,1216" fill="#c81e00"/>
<polygon points="590.5,1124.8 597.7,1132 590.5,1139.2 583.3,1132" fill="#c81e00"/>
<polygon points="596,1124.3 603.2,1131.5 596,1138.7 588.8,1131.5" fill="#c81e00"/>
<polygon points="604.5,1124.8 611.7,1132 604.5,1139.2 597.3,1132" fill="#c81e00"/>
<polygon points="616,1124.3 623.2,1131.5 616,1138.7 608.8,1131.5" fill="#c81e00"/>
<text x="818.4" y="1563.2" font-size="23.7" text-anchor="middle" font-weight="bold" fill="#000">Post-infusion(day)</text>
<text x="0" y="0" font-size="24" text-anchor="middle" font-weight="bold" fill="#000" transform="translate(450.6,1306.5) rotate(-90)">CD7-/CD3+(%)</text>
<line x1="1164" y1="1152.6" x2="1203.4" y2="1152.6" stroke="#c81e00" stroke-width="1.8"/>
<polygon points="1183.8,1145.35 1191,1159.85 1176.6,1159.85" fill="#c81e00"/>
<text x="1224.2" y="1162.5" font-size="28.7" text-anchor="start" font-weight="normal" fill="#000">patient 3</text>
<line x1="1164" y1="1202.3" x2="1203.4" y2="1202.3" stroke="#c81e00" stroke-width="1.8"/>
<polygon points="1183.8,1195.24 1185.62,1200.32 1190.86,1200.31 1186.94,1203.97 1188.89,1209.36 1183.8,1206.32 1178.71,1209.36 1180.66,1203.97 1176.74,1200.31 1181.98,1200.32" fill="#c81e00"/>
<text x="1224.2" y="1212.2" font-size="28.7" text-anchor="start" font-weight="normal" fill="#000">patient 6</text>
<line x1="1164" y1="1252.1" x2="1203.4" y2="1252.1" stroke="#c81e00" stroke-width="1.8"/>
<polygon points="1183.8,1244.7 1191.2,1252.1 1183.8,1259.5 1176.4,1252.1" fill="#c81e00"/>
<text x="1224.2" y="1262" font-size="28.7" text-anchor="start" font-weight="normal" fill="#000">patient 10</text>
<line x1="1164" y1="1302.2" x2="1203.4" y2="1302.2" stroke="#34a31b" stroke-width="1.8"/>
<circle cx="1183.8" cy="1302.2" r="7" fill="#34a31b"/>
<text x="1224.2" y="1312.1" font-size="28.7" text-anchor="start" font-weight="normal" fill="#000">patient 4</text>
<line x1="1164" y1="1352" x2="1203.4" y2="1352" stroke="#34a31b" stroke-width="1.8"/>
<rect x="1176.6" y="1344.8" width="14.4" height="14.4" fill="#34a31b"/>
<text x="1224.2" y="1361.9" font-size="28.7" text-anchor="start" font-weight="normal" fill="#000">patient 5</text>
<line x1="1164" y1="1401.3" x2="1203.4" y2="1401.3" stroke="#34a31b" stroke-width="1.8"/>
<polygon points="1183.8,1394.05 1191,1408.55 1176.6,1408.55" fill="#34a31b"/>
<text x="1224.2" y="1411.2" font-size="28.7" text-anchor="start" font-weight="normal" fill="#000">patient 7</text>
<line x1="1164" y1="1451.5" x2="1203.4" y2="1451.5" stroke="#34a31b" stroke-width="1.8"/>
<polygon points="1183.8,1444.44 1185.62,1449.52 1190.86,1449.51 1186.94,1453.17 1188.89,1458.56 1183.8,1455.52 1178.71,1458.56 1180.66,1453.17 1176.74,1449.51 1181.98,1449.52" fill="#34a31b"/>
<text x="1224.2" y="1461.4" font-size="28.7" text-anchor="start" font-weight="normal" fill="#000">patient 8</text>
<line x1="1164" y1="1500.9" x2="1203.4" y2="1500.9" stroke="#34a31b" stroke-width="1.8"/>
<polygon points="1183.8,1493.5 1191.2,1500.9 1183.8,1508.3 1176.4,1500.9" fill="#34a31b"/>
<text x="1224.2" y="1510.8" font-size="28.7" text-anchor="start" font-weight="normal" fill="#000">patient 9</text>
</svg>
</body></html>
